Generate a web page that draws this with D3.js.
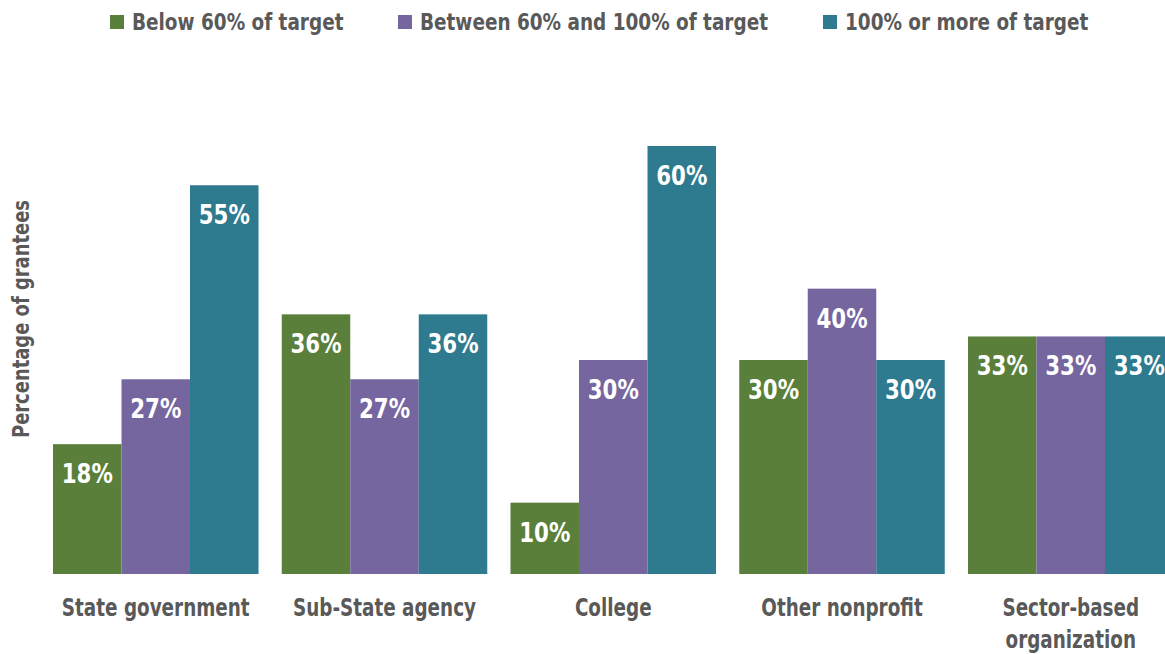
<!DOCTYPE html>
<html>
<head>
<meta charset="utf-8">
<script src="https://cdn.jsdelivr.net/npm/d3@7"></script>
<style>
  html, body { margin: 0; padding: 0; background: #fff; }
  svg { display: block; }
  text { font-family: "DejaVu Sans", sans-serif; font-weight: bold; }
</style>
</head>
<body>
<svg id="chart" width="1165" height="654"></svg>
<script>
const categories = ["State government", "Sub-State agency", "College", "Other nonprofit", "Sector-based organization"];
const seriesNames = ["Below 60% of target", "Between 60% and 100% of target", "100% or more of target"];
const below60 = [18.2, 36.4, 10, 30, 33.3];
const between60and100 = [27.3, 27.3, 30, 40, 33.3];
const over100 = [54.5, 36.4, 60, 30, 33.3];
const seriesValues = [below60, between60and100, over100];
const colors = ["#5a7f3a", "#7566a0", "#2e7a8f"];

const svg = d3.select("#chart");
const baseline = 574;

const x0 = d3.scaleBand().domain(categories).range([53, 1173.5]).paddingInner(0.1016).paddingOuter(0);
const x1 = d3.scaleBand().domain(d3.range(seriesNames.length)).range([0, x0.bandwidth()]).padding(0);
const y = d3.scaleLinear().domain([0, 60]).range([baseline, 146]);

const data = categories.map((c, i) => ({cat: c, vals: seriesValues.map((s, k) => ({k, v: s[i]}))}));

const groups = svg.append("g").selectAll("g").data(data).join("g")
  .attr("transform", d => `translate(${x0(d.cat)},0)`);

groups.selectAll("rect").data(d => d.vals).join("rect")
  .attr("x", d => x1(d.k))
  .attr("width", x1.bandwidth())
  .attr("y", d => y(d.v))
  .attr("height", d => baseline - y(d.v))
  .attr("fill", d => colors[d.k]);

// value labels (condensed via horizontal scale)
groups.selectAll("text.val").data(d => d.vals).join("text")
  .attr("class", "val")
  .attr("transform", d => `translate(${x1(d.k) + x1.bandwidth() / 2},${y(d.v) + 39}) scale(0.79,1)`)
  .attr("text-anchor", "middle")
  .attr("fill", "#fff")
  .style("font-size", "27px")
  .text(d => Math.round(d.v) + "%");

const catLines = {"Sector-based organization": ["Sector-based", "organization"]};
groups.each(function(d) {
  const lines = catLines[d.cat] || [d.cat];
  const g = d3.select(this);
  lines.forEach((ln, i) => {
    g.append("text")
      .attr("class", "cat")
      .attr("transform", `translate(${x0.bandwidth() / 2},${616 + i * 32}) scale(0.75,1)`)
      .attr("text-anchor", "middle")
      .attr("fill", "#595959")
      .style("font-size", "24.5px")
      .text(ln);
  });
});

svg.append("text")
  .attr("transform", "translate(29,319) rotate(-90) scale(0.78,1)")
  .attr("text-anchor", "middle")
  .attr("fill", "#595959")
  .style("font-size", "23px")
  .text("Percentage of grantees");

const legendX = [110, 398, 823];
const leg = svg.append("g").selectAll("g").data(seriesNames).join("g")
  .attr("transform", (d, i) => `translate(${legendX[i]},0)`);
leg.append("rect").attr("x", 0).attr("y", 15).attr("width", 14).attr("height", 14)
  .attr("fill", (d, i) => colors[i]);
leg.append("text").attr("transform", "translate(22,30) scale(0.785,1)")
  .attr("fill", "#595959")
  .style("font-size", "23.5px")
  .text(d => d);
</script>
</body>
</html>
